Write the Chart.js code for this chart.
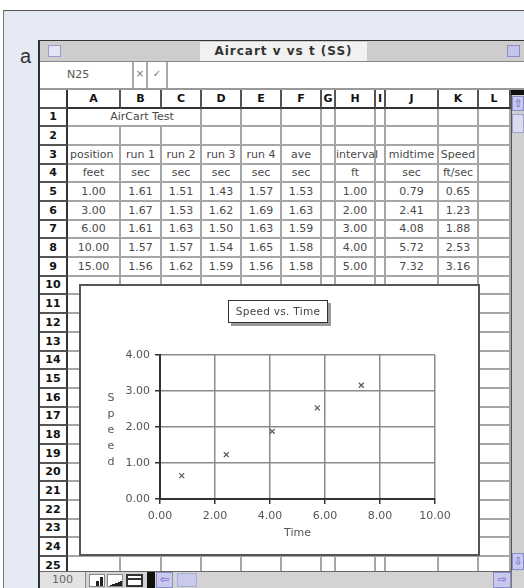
<!DOCTYPE html>
<html lang="en">
<head>
<meta charset="UTF-8">
<title>Aircart v vs t (SS)</title>
<script src="https://cdn.jsdelivr.net/npm/chart.js"></script>
<style>
  body { margin:0; width:524px; height:588px; overflow:hidden; background:#fff; font-family:"DejaVu Sans", sans-serif; position:relative; }
  .abs { position:absolute; box-sizing:border-box; }
  #frame { left:3px; top:10px; width:521px; height:578px; background:#e6eaf5; border-top:1px solid #555; border-left:1px solid #777; }
  #sheet { left:38px; top:40px; width:486px; height:548px; background:#fff; border-left:2px solid #333; border-top:1px solid #333; }
  .cell { position:absolute; box-sizing:border-box; border-right:2px solid #a6a6a6; border-bottom:2px solid #a6a6a6;
          font-size:11px; color:#4a4a4a; text-align:center; white-space:nowrap; overflow:visible; }
  .rn { border-right:2px solid #333; border-bottom:2px solid #555; font-weight:bold; color:#111; }
  .hd { border-right:2px solid #555; border-bottom:2px solid #333; font-weight:bold; color:#111; }
  #chartBox { left:79px; top:284px; width:401px; height:272px; border:2px solid #555; background:#fff; z-index:2; }
  #chartTitle { left:147px; top:14px; width:100px; height:23px; border:1px solid #333; background:#fff;
                box-shadow:3px 3px 0 #9a9a9a; font-size:10.5px; color:#444; text-align:center; line-height:21px; letter-spacing:0.3px; }
  .lav { background:#c9c9ee; border:1px solid #8c8cc8; color:#6a5acd; font-size:11px; text-align:center; }
</style>
</head>
<body>
<div class="abs" id="frame"></div>
<div class="abs" id="sheet"></div>
<div class="abs" style="left:20px;top:46px;font:20px 'Liberation Sans',sans-serif;line-height:20px;color:#333;">a</div>

<!-- title bar -->
<div class="abs" style="left:40px;top:41px;width:484px;height:21px;background:#cdcdcd;border-bottom:1px solid #888;z-index:3;"></div>
<div class="abs" style="left:48px;top:45px;width:13px;height:12px;border:1px solid #9a9ad0;background:#e4e4f4;z-index:4;"></div>
<div class="abs" style="left:507px;top:45px;width:13px;height:12px;border:1px solid #8c8cc8;background:#c4c4ea;z-index:4;"></div>
<div class="abs" id="winTitle" style="left:200px;top:42px;width:167px;height:19px;background:#f1f1f1;z-index:4;font-size:12px;font-weight:bold;color:#333;text-align:center;line-height:19px;letter-spacing:1px;"></div>

<!-- formula bar -->
<div class="abs" style="left:40px;top:62px;width:484px;height:28px;background:#fff;border-bottom:2px solid #999;z-index:3;"></div>
<div class="abs" style="left:67px;top:66px;font-size:11px;color:#555;line-height:18px;z-index:4;">N25</div>
<div class="abs" style="left:132px;top:62px;width:16px;height:26px;border-left:2px solid #aaa;border-right:2px solid #aaa;font-size:10px;color:#777;text-align:center;line-height:24px;z-index:4;">&#215;</div>
<div class="abs" style="left:148px;top:62px;width:20px;height:26px;border-right:2px solid #aaa;font-size:10px;color:#777;text-align:center;line-height:24px;z-index:4;">&#10003;</div>

<div class="abs" id="grid" style="left:0;top:0;width:524px;height:588px;z-index:1;"></div>

<div class="abs" id="chartBox">
  <canvas id="speedChart" width="397" height="268"></canvas>
  <div class="abs" id="chartTitle">Speed vs. Time</div>
</div>

<!-- vertical scrollbar -->
<div class="abs" style="left:511px;top:90px;width:13px;height:481px;background:#cfcfcf;border-left:1px solid #555;z-index:3;"></div>
<div class="abs" style="left:511px;top:90px;width:13px;height:5px;background:#111;z-index:4;"></div>
<div class="abs lav" style="left:512px;top:96px;width:12px;height:15px;line-height:13px;z-index:4;">&#8679;</div>
<div class="abs" style="left:512px;top:114px;width:12px;height:19px;background:#dcdcf0;border:1px solid #a0a0c8;z-index:4;"></div>
<div class="abs lav" style="left:512px;top:553px;width:12px;height:17px;line-height:15px;z-index:4;">&#8681;</div>

<!-- status bar -->
<div class="abs" style="left:40px;top:571px;width:484px;height:17px;background:#d3d3d3;border-top:1px solid #666;z-index:3;"></div>
<div class="abs" style="left:40px;top:572px;width:46px;height:16px;background:#e2e2e2;border-right:1px solid #888;font-size:11px;color:#666;text-align:center;line-height:16px;z-index:4;">100</div>
<div class="abs" style="left:89px;top:574px;width:16px;height:13px;background:#fff;border:1px solid #888;z-index:4;">
  <div class="abs" style="left:6px;top:6px;width:3px;height:5px;background:#222;"></div>
  <div class="abs" style="left:10px;top:2px;width:3px;height:9px;background:#222;"></div>
</div>
<div class="abs" style="left:107px;top:574px;width:16px;height:13px;background:#fff;border:1px solid #888;z-index:4;">
  <div class="abs" style="left:2px;top:6px;width:12px;height:5px;background:linear-gradient(160deg,#fff 45%,#222 46%);"></div>
</div>
<div class="abs" style="left:126px;top:574px;width:17px;height:13px;background:#fff;border:2px solid #333;z-index:4;">
  <div class="abs" style="left:0;top:2px;width:13px;height:2px;background:#333;"></div>
</div>
<div class="abs" style="left:147px;top:572px;width:8px;height:16px;background:#111;z-index:4;"></div>
<div class="abs lav" style="left:156px;top:572px;width:17px;height:16px;line-height:14px;z-index:4;">&#8678;</div>
<div class="abs" style="left:177px;top:573px;width:20px;height:14px;background:#c9c9ee;border:1px solid #aaaadd;z-index:4;"></div>
<div class="abs lav" style="left:493px;top:572px;width:18px;height:16px;line-height:14px;z-index:4;">&#8680;</div>
<div class="abs" style="left:511px;top:571px;width:13px;height:17px;background:#d3d3d3;border-left:1px solid #777;z-index:4;"></div>

<script>
// window + sheet text
const windowTitle = 'Aircart v vs t (SS)';
const sheetTitle = 'AirCart Test';
const colLetters = ['A', 'B', 'C', 'D', 'E', 'F', 'G', 'H', 'I', 'J', 'K', 'L'];
const headRow3 = ['position', 'run 1', 'run 2', 'run 3', 'run 4', 'ave', '', 'interval', '', 'midtime', 'Speed', ''];
const unitRow4 = ['feet', 'sec', 'sec', 'sec', 'sec', 'sec', '', 'ft', '', 'sec', 'ft/sec', ''];

// measured data (rows 5-9)
const positionFt = [1.00, 3.00, 6.00, 10.00, 15.00];
const run1 = [1.61, 1.67, 1.61, 1.57, 1.56];
const run2 = [1.51, 1.53, 1.63, 1.57, 1.62];
const run3 = [1.43, 1.62, 1.50, 1.54, 1.59];
const run4 = [1.57, 1.69, 1.63, 1.65, 1.56];
const aveSec = [1.53, 1.63, 1.59, 1.58, 1.58];
const intervalFt = [1.00, 2.00, 3.00, 4.00, 5.00];
const midtime = [0.79, 2.41, 4.08, 5.72, 7.32];
const speed = [0.65, 1.23, 1.88, 2.53, 3.16];

// chart axes
const xTicks = [0, 2, 4, 6, 8, 10];
const yTicks = [0, 1, 2, 3, 4];
const xTitle = 'Time';
const yTitle = 'Speed';

document.getElementById('winTitle').textContent = windowTitle;

// ---- spreadsheet grid ----
const colX = [40, 68, 121, 162, 202, 242, 282, 322, 336, 376, 386, 439, 479, 511];
const rowTop = k => Math.round(90 + k * 18.68);
const dataCols = [positionFt, run1, run2, run3, run4, aveSec, null, intervalFt, null, midtime, speed, null];
const grid = document.getElementById('grid');

function addCell(x0, x1, r, text, cls, align) {
  const d = document.createElement('div');
  const top = rowTop(r), h = rowTop(r + 1) - top;
  d.className = 'cell' + (cls ? ' ' + cls : '');
  d.style.left = x0 + 'px';
  d.style.top = top + 'px';
  d.style.width = (x1 - x0) + 'px';
  d.style.height = h + 'px';
  d.style.lineHeight = (h - 2) + 'px';
  if (align === 'left') { d.style.textAlign = 'left'; d.style.paddingLeft = '2px'; }
  if (align === 'shift') d.style.paddingLeft = '16px';
  d.textContent = text;
  grid.appendChild(d);
}

for (let r = 0; r <= 25; r++) {
  addCell(colX[0], colX[1], r, r === 0 ? '' : String(r), 'rn');
  for (let c = 0; c < colLetters.length; c++) {
    const x0 = colX[c + 1], x1 = colX[c + 2];
    if (r === 0) { addCell(x0, x1, r, colLetters[c], 'hd'); continue; }
    if (r === 1 && c === 0) { addCell(x0, colX[4], r, sheetTitle, null, 'shift'); continue; }
    if (r === 1 && (c === 1 || c === 2)) continue;
    let txt = '';
    if (r === 3) txt = headRow3[c];
    else if (r === 4) txt = unitRow4[c];
    else if (r >= 5 && r <= 9 && dataCols[c]) txt = dataCols[c][r - 5].toFixed(2);
    addCell(x0, x1, r, txt, null, (r === 3 && c === 0) ? 'left' : null);
  }
}

// ---- chart ----
const tickFont = { family: 'DejaVu Sans', size: 11 };

const stackedYTitle = {
  id: 'stackedYTitle',
  afterDraw(chart) {
    const { ctx, chartArea, scales } = chart;
    const letters = yTitle.split('');
    const mid = (chartArea.top + chartArea.bottom) / 2 + 3;
    ctx.save();
    ctx.font = '11px "DejaVu Sans"';
    ctx.fillStyle = '#555';
    ctx.textAlign = 'center';
    ctx.textBaseline = 'middle';
    letters.forEach((ch, i) => {
      ctx.fillText(ch, scales.y.left + 30, mid + (i - (letters.length - 1) / 2) * 16);
    });
    ctx.restore();
  }
};

new Chart(document.getElementById('speedChart'), {
  type: 'scatter',
  data: {
    datasets: [{
      data: midtime.map((t, i) => ({ x: t, y: speed[i] })),
      pointStyle: 'crossRot',
      radius: 3.5,
      borderColor: '#555',
      borderWidth: 1.2
    }]
  },
  options: {
    responsive: false,
    animation: false,
    devicePixelRatio: 1,
    layout: { padding: { left: 0, right: 43, top: 69, bottom: 0 } },
    plugins: { legend: { display: false }, tooltip: { enabled: false }, title: { display: false } },
    scales: {
      x: {
        type: 'linear', min: 0, max: 10,
        afterBuildTicks: s => { s.ticks = xTicks.map(v => ({ value: v })); },
        afterFit: s => { s.height = 55; },
        ticks: { color: '#555', font: tickFont, padding: 6, maxRotation: 0, callback: v => v.toFixed(2) },
        grid: { color: '#8a8a8a', lineWidth: 1.5, tickLength: 5, tickColor: '#333' },
        border: { color: '#333', width: 2 },
        title: { display: true, text: xTitle, color: '#555', font: tickFont, padding: { top: 0, bottom: 14 } }
      },
      y: {
        min: 0, max: 4,
        afterBuildTicks: s => { s.ticks = yTicks.map(v => ({ value: v })); },
        afterFit: s => { s.width = 79; },
        ticks: { color: '#555', font: tickFont, padding: 5, callback: v => v.toFixed(2) },
        grid: { color: '#8a8a8a', lineWidth: 1.5, tickLength: 5, tickColor: '#333' },
        border: { color: '#333', width: 2 }
      }
    }
  },
  plugins: [stackedYTitle]
});
</script>
</body>
</html>
